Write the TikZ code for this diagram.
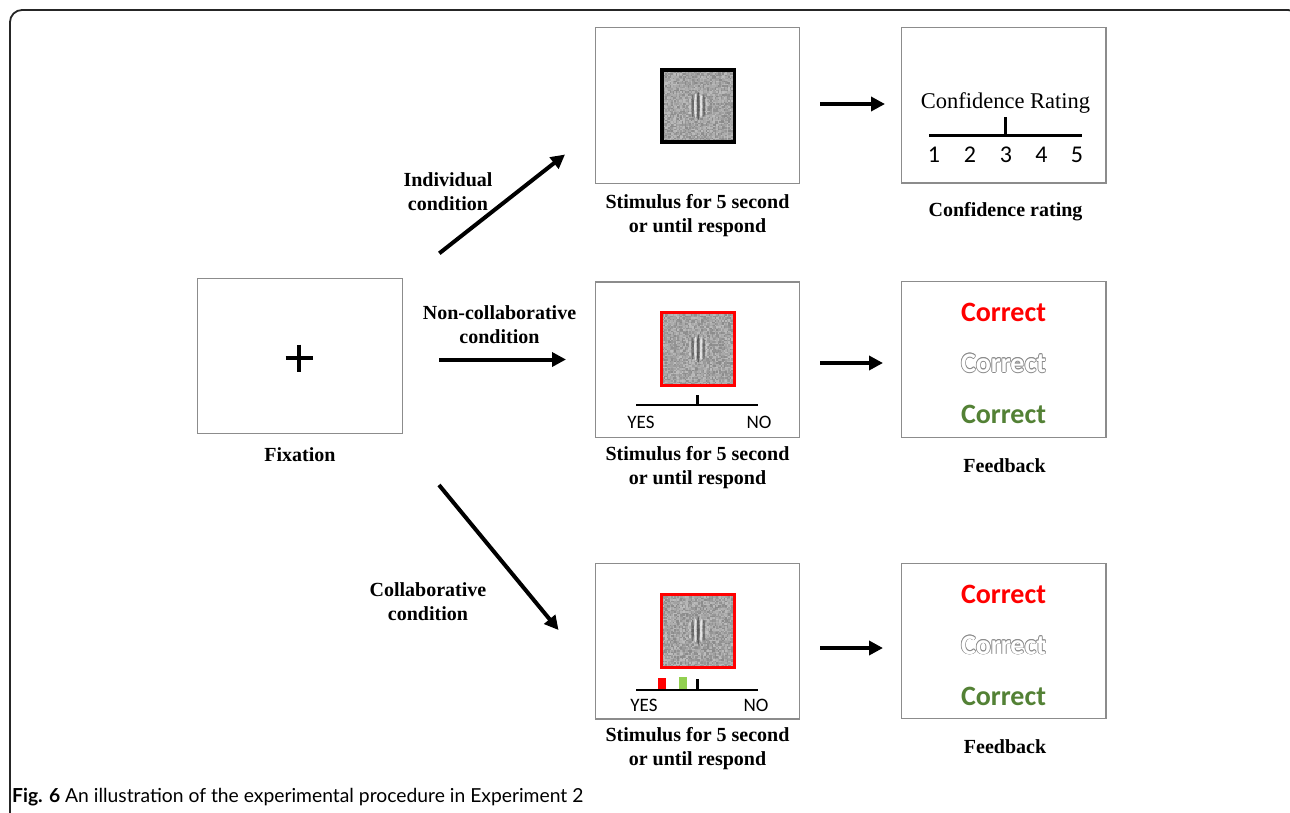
\documentclass[tikz,border=0pt]{standalone}
\usepackage{fontspec}
\setmainfont{Liberation Serif}
\newfontfamily\calfont{Carlito}
\newfontfamily\capfont{Lato}
\usetikzlibrary{arrows.meta}

\definecolor{framegray}{HTML}{8C8C8C}
\definecolor{outlinegray}{HTML}{8A8A8A}
\definecolor{okgreen}{HTML}{538135}
\definecolor{barred}{HTML}{FF0000}
\definecolor{bargreen}{HTML}{92D050}

% text drawn as a grey outline with a white inside
\newcommand\hollowtext[1]{%
  \leavevmode
  \rlap{\color{outlinegray}\kern-0.7pt#1}%
  \rlap{\color{outlinegray}\kern0.7pt#1}%
  \rlap{\color{outlinegray}\raisebox{0.7pt}{#1}}%
  \rlap{\color{outlinegray}\raisebox{-0.7pt}{#1}}%
  \rlap{\color{outlinegray}\kern-0.5pt\raisebox{0.5pt}{#1}}%
  \rlap{\color{outlinegray}\kern0.5pt\raisebox{0.5pt}{#1}}%
  \rlap{\color{outlinegray}\kern-0.5pt\raisebox{-0.5pt}{#1}}%
  \rlap{\color{outlinegray}\kern0.5pt\raisebox{-0.5pt}{#1}}%
  {\color{white}#1}}

\newcommand\twolines[2]{\begin{tabular}[t]{@{}c@{}}#1\\#2\end{tabular}}

\begin{document}
\begin{tikzpicture}[x=1pt,y=-1pt,
  screen/.style={draw=framegray, line width=1.4pt, minimum width=204.5pt,
    minimum height=155.5pt, inner sep=0pt},
  label/.style={font=\fontsize{20}{24}\selectfont\bfseries, inner sep=0pt, anchor=base},
  blackframe/.style={draw=black, line width=3.6pt, minimum size=72.5pt, inner sep=0pt},
  redframe/.style={draw=barred, line width=3pt, minimum size=73pt, inner sep=0pt},
  flow/.style={line width=4pt, -{Triangle[length=14pt,width=14pt]}},
  scaleline/.style={line width=2.8pt},
  sansnum/.style={font=\calfont\fontsize{24}{26}\selectfont, inner sep=0pt, anchor=base},
  yesno/.style={font=\calfont\fontsize{19}{22}\selectfont, inner sep=0pt, anchor=base},
  fbword/.style={font=\calfont\bfseries\fontsize{28}{30}\selectfont, inner sep=0pt, anchor=base},
  noisepatch/.pic={
    \foreach \i in {0,...,47}{
      \foreach \j in {0,...,47}{
        \pgfmathrandominteger{\g}{26}{46}
        \fill[black!\g] (-36+1.5*\i,-36+1.5*\j) rectangle ++(1.55,1.55);
      }
    }
    \foreach \dx in {-8.2,8.2}
      \fill[white, opacity=0.25] (\dx,0) ellipse [x radius=1.2, y radius=9];
    \foreach \dx in {-2.8,2.8}
      \fill[white, opacity=0.65] (\dx,0) ellipse [x radius=1.3, y radius=12];
    \foreach \dx in {-5.6,5.6}
      \fill[black!80, opacity=0.45] (\dx,0) ellipse [x radius=1.3, y radius=11];
    \fill[black!80, opacity=0.6] (0,0) ellipse [x radius=1.4, y radius=14];
  }
]
\useasboundingbox (0,0) rectangle (1290,812);
\pgfmathsetseed{11}

% outer frame, running off the right and bottom edges
\begin{scope}
  \clip (0,0) rectangle (1290,812);
  \draw[line width=1.8pt, black!85, rounded corners=12pt] (10,10) rectangle (1300,850);
\end{scope}

% ---------- fixation ----------
\node[screen] (fix) at (300,356) {};
\draw[line width=3.4pt] (285.5,358) -- (312.5,358) (299,344.5) -- (299,371.5);
\node[label] (fixcap) at (300,461.5) {Fixation};

% ---------- stimulus screens ----------
\node[screen] (stim1) at (697.5,105.5) {};
\node[screen] (stim2) at (697.5,359.75) {};
\node[screen] (stim3) at (697.5,641.25) {};

\pic at (698.25,106) {noisepatch};
\pic at (698.25,348.7) {noisepatch};
\pic at (698.25,630.5) {noisepatch};
\node[blackframe] (sq1) at (698.25,106) {};
\node[redframe] (sq2) at (698.25,348.7) {};
\node[redframe] (sq3) at (698.25,630.5) {};

% yes/no scale, non-collaborative
\coordinate (s2l) at (636,405);
\coordinate (s2r) at (758,405);
\coordinate (t2) at (697.3,405);
\draw[scaleline] (s2l) -- (s2r);
\draw[scaleline] (t2) -- ++(0,-10);
\node[yesno] (yes2) at (641,428) {YES};
\node[yesno] (no2) at (759,428) {NO};

% yes/no scale, collaborative, with the two partners' marks
\coordinate (s3l) at (636,690);
\coordinate (s3r) at (758,690);
\coordinate (t3) at (697.3,690);
\fill[barred] (657.7,677.5) rectangle (666,690);
\fill[bargreen] (679.3,676.5) rectangle (687,690);
\draw[scaleline] (s3l) -- (s3r);
\draw[scaleline] (t3) -- ++(0,-11);
\node[yesno] (yes3) at (644,711) {YES};
\node[yesno] (no3) at (756,711) {NO};

\node[label] (cap1) at (697.5,208.5) {\twolines{Stimulus for 5 second}{or until respond}};
\node[label] (cap2) at (697.5,460.5) {\twolines{Stimulus for 5 second}{or until respond}};
\node[label] (cap3) at (697.5,741.5) {\twolines{Stimulus for 5 second}{or until respond}};

% ---------- confidence rating ----------
\node[screen] (conf) at (1003.75,105.25) {};
\node[font=\fontsize{22.5}{26}\selectfont, inner sep=0pt, anchor=base] (conftitle) at (1005.5,108.5) {Confidence Rating};
\coordinate (cl) at (929,135.5);
\coordinate (cr) at (1082,135.5);
\coordinate (ct) at (1005.7,135.5);
\draw[scaleline] (cl) -- (cr);
\draw[scaleline] (ct) -- ++(0,-19);
\node[sansnum] (n1) at (934,162.5) {1};
\node[sansnum] (n2) at (970,162.5) {2};
\node[sansnum] (n3) at (1006,162.5) {3};
\node[sansnum] (n4) at (1041.5,162.5) {4};
\node[sansnum] (n5) at (1077,162.5) {5};
\node[label] (confcap) at (1005.5,216.5) {Confidence rating};

% ---------- feedback ----------
\node[screen] (fb2) at (1003.75,359.5) {};
\node[fbword, text=barred] (fb2a) at (1003.5,321) {Correct};
\node[fbword] (fb2b) at (1003.5,372.3) {\hollowtext{Correct}};
\node[fbword, text=okgreen] (fb2c) at (1003.5,423.5) {Correct};
\node[label] (fb2cap) at (1004.5,472.6) {Feedback};

\node[screen] (fb3) at (1003.75,641) {};
\node[fbword, text=barred] (fb3a) at (1003.5,603) {Correct};
\node[fbword] (fb3b) at (1003.5,654) {\hollowtext{Correct}};
\node[fbword, text=okgreen] (fb3c) at (1003.5,705.5) {Correct};
\node[label] (fb3cap) at (1005,753.6) {Feedback};

% ---------- arrows ----------
\coordinate (a1s) at (439.3,253.3);
\coordinate (a1e) at (565,154.5);
\coordinate (a2s) at (439,359.5);
\coordinate (a2e) at (566,359.5);
\coordinate (a3s) at (439,485);
\coordinate (a3e) at (558.5,630);
\draw[flow] (a1s) -- (a1e);
\draw[flow] (a2s) -- (a2e);
\draw[flow] (a3s) -- (a3e);

\coordinate (b1s) at (820,104);
\coordinate (b1e) at (885,104);
\coordinate (b2s) at (820,363);
\coordinate (b2e) at (883,363);
\coordinate (b3s) at (820,648);
\coordinate (b3e) at (883,648);
\draw[flow] (b1s) -- (b1e);
\draw[flow] (b2s) -- (b2e);
\draw[flow] (b3s) -- (b3e);

\node[label] (lab1) at (448,186.5) {\twolines{Individual}{condition}};
\node[label] (lab2) at (499.5,319.5) {\twolines{Non-collaborative}{condition}};
\node[label] (lab3) at (428,596.5) {\twolines{Collaborative}{condition}};

% ---------- figure caption ----------
\node[font=\capfont\fontsize{19.3}{21}\selectfont, inner sep=0pt, anchor=base west] (figcap)
  at (12,802) {\textbf{Fig. 6} An illustration of the experimental procedure in Experiment 2};
\end{tikzpicture}
\end{document}
